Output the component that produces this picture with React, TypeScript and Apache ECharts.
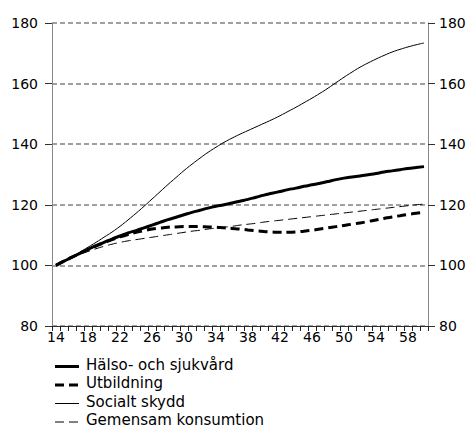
import React, { useEffect, useRef } from "react";
import * as echarts from "echarts";

const years: string[] = [];
for (let y = 14; y <= 60; y++) years.push(String(y));

const halso = [100, 101.4, 102.7, 104.0, 105.3, 106.5, 107.6, 108.7, 109.7, 110.7, 111.5, 112.4, 113.3, 114.2, 115.1, 115.9, 116.7, 117.5, 118.2, 118.9, 119.5, 120.0, 120.6, 121.2, 121.8, 122.5, 123.2, 123.8, 124.4, 125.0, 125.5, 126.1, 126.6, 127.1, 127.7, 128.3, 128.8, 129.2, 129.5, 129.9, 130.3, 130.8, 131.2, 131.6, 132.0, 132.3, 132.6];

const utbildning = [100, 101.4, 102.7, 104.0, 105.3, 106.4, 107.5, 108.5, 109.4, 110.2, 110.9, 111.5, 112.0, 112.3, 112.6, 112.7, 112.8, 112.8, 112.8, 112.7, 112.6, 112.4, 112.2, 112.0, 111.7, 111.4, 111.2, 111.0, 110.9, 110.9, 111.0, 111.3, 111.6, 112.0, 112.4, 112.8, 113.2, 113.6, 114.0, 114.5, 115.0, 115.5, 116.0, 116.4, 116.8, 117.2, 117.5];

const socialt = [100, 101.4, 102.9, 104.4, 106.0, 107.6, 109.3, 111.0, 112.9, 115.0, 117.2, 119.5, 121.9, 124.3, 126.7, 129.0, 131.3, 133.4, 135.4, 137.3, 139.0, 140.6, 142.0, 143.3, 144.5, 145.7, 146.9, 148.1, 149.4, 150.8, 152.2, 153.7, 155.2, 156.8, 158.5, 160.3, 162.1, 163.8, 165.4, 166.8, 168.1, 169.3, 170.4, 171.3, 172.1, 172.8, 173.4];

const gemensam = [100, 101.3, 102.5, 103.6, 104.6, 105.5, 106.3, 107.0, 107.6, 108.1, 108.5, 108.9, 109.3, 109.7, 110.1, 110.5, 110.9, 111.3, 111.6, 112.0, 112.3, 112.6, 112.9, 113.3, 113.6, 113.9, 114.3, 114.6, 114.9, 115.2, 115.5, 115.8, 116.1, 116.4, 116.7, 117.0, 117.3, 117.6, 117.9, 118.2, 118.5, 118.8, 119.1, 119.4, 119.7, 120.0, 120.2];

const seriesNames = ["Hälso- och sjukvård", "Utbildning", "Socialt skydd", "Gemensam konsumtion"];
const seriesWidths = [3, 3, 1, 1];
const seriesDash: (number[] | null)[] = [null, [9, 5], null, [9, 5]];

const FONT = "DejaVu Sans";

export default function App() {
  const ref = useRef<HTMLDivElement>(null);
  useEffect(() => {
    if (!ref.current) return;
    const chart = echarts.init(ref.current, undefined, { renderer: "svg" });
    const yAxisBase = {
      type: "value",
      min: 80,
      max: 180,
      interval: 20,
      axisLine: { show: true, lineStyle: { color: "#888888", width: 1 } },
      axisTick: { show: true, length: 7, lineStyle: { color: "#333333" } },
      axisLabel: { color: "#000", fontFamily: FONT, fontSize: 14 },
    };
    const datasets = [halso, utbildning, socialt, gemensam];
    const legendRowsY = [366.5, 385, 403.5, 422];
    const legendGraphics: any[] = [];
    seriesNames.forEach((name, i) => {
      legendGraphics.push({
        type: "line",
        shape: { x1: 55, y1: legendRowsY[i], x2: 79, y2: legendRowsY[i] },
        style: {
          stroke: "#000",
          lineWidth: seriesWidths[i],
          lineDash: seriesDash[i] ? [9, 5] : null,
        },
      });
      legendGraphics.push({
        type: "text",
        x: 86,
        y: legendRowsY[i] - 2,
        style: {
          text: name,
          fontFamily: FONT,
          fontSize: 15,
          fill: "#000",
          verticalAlign: "middle",
          textAlign: "left",
        },
      });
    });
    chart.setOption({
      animation: false,
      grid: { left: 52, right: 43, top: 23, bottom: 102, containLabel: false },
      graphic: legendGraphics,
      xAxis: {
        type: "category",
        data: years,
        boundaryGap: true,
        axisLine: { show: true, onZero: false, lineStyle: { color: "#333333", width: 1 } },
        axisTick: {
          show: true,
          interval: 0,
          alignWithLabel: false,
          inside: false,
          length: 5,
          lineStyle: { color: "#222222", width: 1 },
        },
        axisLabel: { show: true, interval: 3, color: "#000", fontFamily: FONT, fontSize: 14, margin: 4 },
        splitLine: { show: false },
      },
      yAxis: [
        {
          ...yAxisBase,
          position: "left",
          axisLabel: { ...yAxisBase.axisLabel, margin: 14 },
          splitLine: { show: true, lineStyle: { color: "#808080", type: [5, 3], width: 1.5 } },
        },
        {
          ...yAxisBase,
          position: "right",
          axisLabel: { ...yAxisBase.axisLabel, margin: 11 },
          splitLine: { show: false },
        },
      ],
      series: seriesNames.map((name, i) => ({
        name,
        type: "line",
        data: datasets[i],
        smooth: true,
        symbol: "none",
        itemStyle: { color: "#000" },
        lineStyle: {
          color: "#000",
          width: seriesWidths[i],
          type: seriesDash[i] ? seriesDash[i] : "solid",
        },
        z: 4 - i,
      })),
    });
    return () => chart.dispose();
  }, []);
  return (
    <div
      ref={ref}
      style={{ position: "fixed", left: 0, top: 0, width: 471, height: 428, background: "#fff" }}
    />
  );
}
